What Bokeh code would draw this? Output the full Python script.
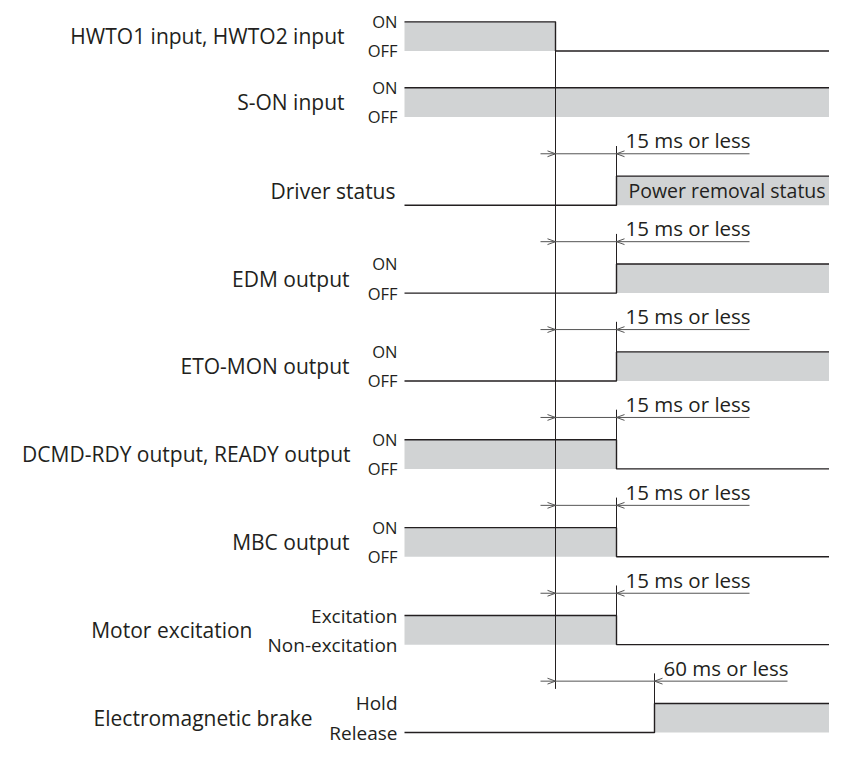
from bokeh.plotting import figure
from bokeh.models import Range1d, ColumnDataSource
from bokeh.embed import file_html
from bokeh.resources import INLINE
from bokeh.core.properties import value

# ---------------- data ----------------
signal_names = ["HWTO1 input, HWTO2 input", "S-ON input", "Driver status",
                "EDM output", "ETO-MON output", "DCMD-RDY output, READY output",
                "MBC output", "Motor excitation", "Electromagnetic brake"]
high_labels = ["ON", "ON", "", "ON", "ON", "ON", "ON", "Excitation", "Hold"]
low_labels = ["OFF", "OFF", "", "OFF", "OFF", "OFF", "OFF", "Non-excitation", "Release"]
state_before = [1, 1, 0, 0, 0, 1, 1, 1, 0]
state_after = [0, 1, 1, 1, 1, 0, 0, 0, 1]
delay_ms = [0, None, 15, 15, 15, 15, 15, 15, 60]
delay_labels = ["", "", "15 ms or less", "15 ms or less", "15 ms or less",
                "15 ms or less", "15 ms or less", "15 ms or less", "60 ms or less"]
after_text = ["", "", "Power removal status", "", "", "", "", "", ""]

# ---------------- layout (schematic) ----------------
X_START, X_END, X_REF = 404, 845, 555
DELAY_X = {0: 555, 15: 616, 60: 654}
ROW_TOP = [23, 91] + [182 + i * 90.6 for i in range(7)]
LEVEL_H = 30
NAME_RIGHT = [344, 344, 395, 349, 349, 350, 349, 252, 312]
STATE_RIGHT = 397
ARROW_ABOVE = 23
ARROW_LEN = 133

INK = "#231f20"
FILL = "#d1d3d4"
FONT = "Open Sans"

p = figure(width=829, height=747, output_backend="svg", toolbar_location=None,
           x_range=Range1d(0, 829), y_range=Range1d(771, 1),
           min_border=0, outline_line_color=None)
p.axis.visible = False
p.grid.visible = False
p.background_fill_color = "white"

wave_xs, wave_ys = [], []
fl, fr, ft, fb = [], [], [], []
tick_xs, tick_ys = [], []
arr_xs, arr_ys = [], []
head_xs, head_ys = [], []
dl_x, dl_y, dl_t = [], [], []
st_x, st_y, st_t = [], [], []
nm_x, nm_y, nm_t = [], [], []
ax_x, ax_y, ax_t = [], [], []

for i, name in enumerate(signal_names):
    top = ROW_TOP[i]
    bot = top + LEVEL_H
    yb = top if state_before[i] else bot
    ya = top if state_after[i] else bot
    d = delay_ms[i]
    if d is None:
        wave_xs.append([X_START, X_END]); wave_ys.append([yb, yb])
        if state_before[i]:
            fl.append(X_START); fr.append(X_END); ft.append(top); fb.append(bot)
    else:
        xt = DELAY_X[d]
        wave_xs.append([X_START, xt, xt, X_END]); wave_ys.append([yb, yb, ya, ya])
        if state_before[i]:
            fl.append(X_START); fr.append(xt); ft.append(top); fb.append(bot)
        if state_after[i]:
            fl.append(xt); fr.append(X_END); ft.append(top); fb.append(bot)
        if d > 0:
            ay = top - ARROW_ABOVE
            tick_xs.append([xt, xt]); tick_ys.append([ay - 8, bot])
            arr_xs.append([X_REF - 15, xt + ARROW_LEN]); arr_ys.append([ay, ay])
            head_xs.append([X_REF - 8, X_REF, X_REF - 8]); head_ys.append([ay - 3, ay, ay + 3])
            head_xs.append([xt + 8, xt, xt + 8]); head_ys.append([ay - 3, ay, ay + 3])
            dl_x.append(xt + 9); dl_y.append(ay - 14); dl_t.append(delay_labels[i])
        if after_text[i]:
            ax_x.append(xt + 12); ax_y.append((top + bot) / 2); ax_t.append(after_text[i])
    nm_x.append(NAME_RIGHT[i]); nm_y.append((top + bot) / 2); nm_t.append(name)
    if high_labels[i]:
        st_x += [STATE_RIGHT, STATE_RIGHT]; st_y += [top, bot]
        st_t += [high_labels[i], low_labels[i]]

# gray fills
p.quad(left=fl, right=fr, top=ft, bottom=fb, fill_color=FILL, line_color=None)

# reference vertical line
last_arrow = ROW_TOP[-1] - ARROW_ABOVE
p.line([X_REF, X_REF], [ROW_TOP[0], last_arrow + 8], line_color=INK, line_width=1)

# ticks, arrows
p.multi_line(tick_xs, tick_ys, line_color=INK, line_width=1)
p.multi_line(arr_xs, arr_ys, line_color="#555555", line_width=1)
p.multi_line(head_xs, head_ys, line_color="#555555", line_width=1)

# waveforms
p.multi_line(wave_xs, wave_ys, line_color=INK, line_width=1.4)

# texts
p.text(x=nm_x, y=nm_y, text=nm_t, text_font=value(FONT), text_font_size=value("21px"),
       text_align="right", text_baseline="middle", text_color=INK)
st_sizes = ["16.5px" if t in ("ON", "OFF") else "19px" for t in st_t]
p.text(source=ColumnDataSource(dict(x=st_x, y=st_y, t=st_t, s=st_sizes)),
       x="x", y="y", text="t", text_font=value(FONT), text_font_size="s",
       text_align="right", text_baseline="middle", text_color=INK)
p.text(x=dl_x, y=dl_y, text=dl_t, text_font=value(FONT), text_font_size=value("20.5px"),
       text_align="left", text_baseline="middle", text_color=INK)
p.text(x=ax_x, y=ax_y, text=ax_t, text_font=value(FONT), text_font_size=value("19.5px"),
       text_align="left", text_baseline="middle", text_color=INK)

open("out.html", "w").write(file_html(p, INLINE))
